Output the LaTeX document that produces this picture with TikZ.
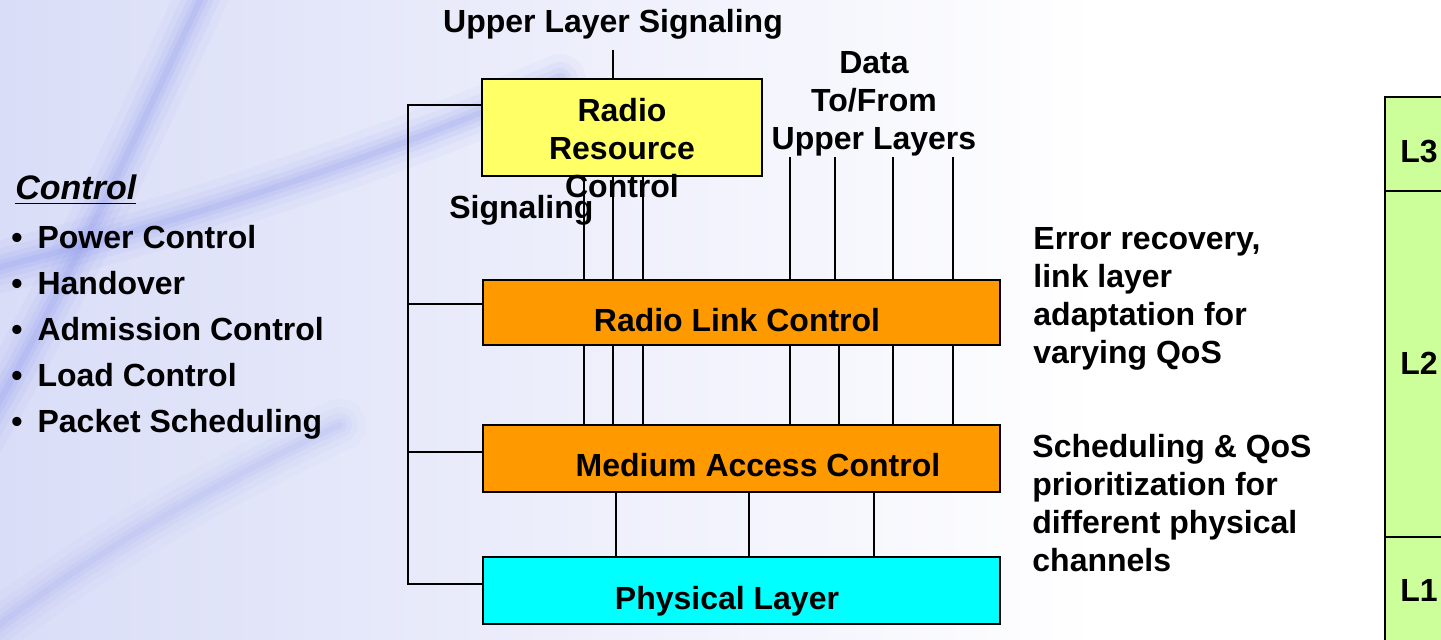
\documentclass[tikz,border=0pt]{standalone}
\usepackage{fontspec}
\setmainfont{Liberation Sans}
\usetikzlibrary{fit}
\definecolor{rrcyellow}{HTML}{FFFF66}
\definecolor{layorange}{HTML}{FF9900}
\definecolor{phycyan}{HTML}{00FFFF}
\definecolor{lgreen}{HTML}{CCFF99}
\definecolor{bglav}{HTML}{D9DDF7}
\definecolor{bgmid}{HTML}{ECEEFB}
\definecolor{streak}{HTML}{7F8CEB}
\begin{document}
\begin{tikzpicture}[x=0.5pt,y=-0.5pt,
  txt/.style={font=\fontsize{16}{19}\selectfont\bfseries, inner sep=0pt},
  listtxt/.style={font=\fontsize{16}{23}\selectfont\bfseries, inner sep=0pt},
  layerbox/.style={draw=black, line width=1.3pt, inner sep=0pt},
  wire/.style={draw=black, line width=0.9pt},
  blur/.style={streak, line cap=round},
]
\useasboundingbox (0,0) rectangle (1441,640);
\clip (0,0) rectangle (1441,640);
% background
\fill[white] (0,0) rectangle (1441,640);
\shade[left color=bglav, right color=white, middle color=bgmid] (0,0) rectangle (1100,640);
\foreach \w/\o in {26/0.05,18/0.07,12/0.09,7/0.11,3/0.12}{
  \draw[blur, line width=\w pt, opacity=\o] (205,-10) .. controls (130,150) and (60,300) .. (-40,470);
  \draw[blur, line width=\w pt, opacity=\o] (-20,272) .. controls (150,230) and (350,170) .. (560,80);
  \draw[blur, line width=\w pt, opacity=0.6*\o] (-20,640) .. controls (80,560) and (220,480) .. (340,425);
}
% right-hand layer column
\node[layerbox, fill=lgreen, fit={(1385,97) (1470,191)}] (l3) {};
\node[layerbox, fill=lgreen, fit={(1385,191) (1470,537)}] (l2) {};
\node[layerbox, fill=lgreen, fit={(1385,537) (1470,680)}] (l1) {};
\node[txt, anchor=base west] (l3t) at (1400,163) {L3};
\node[txt, anchor=base west] (l2t) at (1400,375) {L2};
\node[txt, anchor=base west] (l1t) at (1400,602) {L1};
% boxes
\node[layerbox, fill=rrcyellow, fit={(482,79) (762,176)}] (rrc) {};
\node[layerbox, fill=layorange, fit={(483,280) (1000,345)}] (rlc) {};
\node[layerbox, fill=layorange, fit={(483,425) (1000,492)}] (mac) {};
\node[layerbox, fill=phycyan, fit={(483,557) (1000,624)}] (phy) {};
% top label and line
\node[txt, anchor=base] (uls) at (613,33) {Upper Layer Signaling};
\draw[wire] (uls.south |- 0,50) -- (uls.south |- rrc.north);
% connectors
\foreach \x in {584,613,643}
  \draw[wire] (\x,0 |- rrc.south) -- (\x,0 |- rlc.north);
\foreach \x in {790,835,893,953}
  \draw[wire] (\x,157) -- (\x,0 |- rlc.north);
\foreach \x in {584,613,643,790,839,893,953}
  \draw[wire] (\x,0 |- rlc.south) -- (\x,0 |- mac.north);
\foreach \x in {616,749,874}
  \draw[wire] (\x,0 |- mac.south) -- (\x,0 |- phy.north);
% control bus
\draw[wire] (rrc.west |- 0,105) -- (408,105) -- (408,584) -- (phy.west |- 0,584);
\draw[wire] (408,304) -- (rlc.west |- 0,304);
\draw[wire] (408,452) -- (mac.west |- 0,452);
% box texts
\node[txt, align=center, anchor=north] (rrct) at (622,98) {Radio\\Resource\\Control};
\node[txt, anchor=base] (rlct) at (737,332) {Radio Link Control};
\node[txt, anchor=base] (mact) at (758,477) {Medium Access Control};
\node[txt, anchor=base] (phyt) at (727,610) {Physical Layer};
\node[txt, anchor=north west] (sig) at (449,195) {Signaling};
\node[txt, align=center, anchor=north] (data) at (874,51) {Data\\To/From\\Upper Layers};
% left list
\node[txt, anchor=base west, font=\fontsize{17}{19}\selectfont\bfseries\itshape] (ctl) at (15,200) {\underline{Control}};
\node[listtxt, anchor=north west, align=left] (list) at (11,225)
  {•\hspace{7.5pt}Power Control\\•\hspace{7.5pt}Handover\\•\hspace{7.5pt}Admission Control\\•\hspace{7.5pt}Load Control\\•\hspace{7.5pt}Packet Scheduling};
% right descriptions
\node[txt, anchor=north west, align=left] (err) at (1033,227)
  {Error recovery,\\link layer\\adaptation for\\varying QoS};
\node[txt, anchor=north west, align=left] (sched) at (1032,434)
  {Scheduling \& QoS\\prioritization for\\different physical\\channels};
\end{tikzpicture}
\end{document}
